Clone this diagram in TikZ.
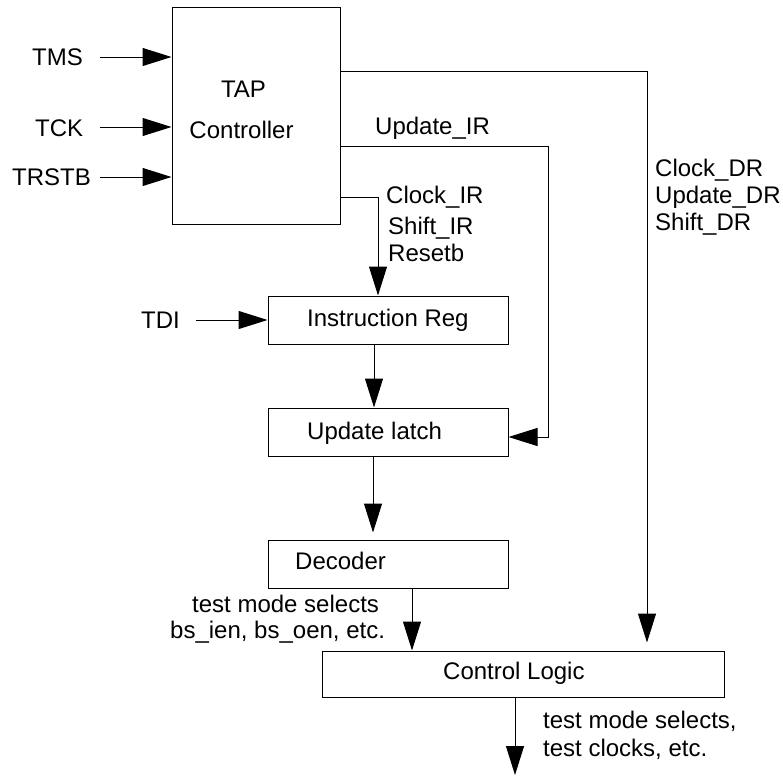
\documentclass[tikz,border=0pt]{standalone}
\usepackage{fontspec}
\setmainfont{Liberation Sans}
\usetikzlibrary{arrows.meta}
\begin{document}
\begin{tikzpicture}[x=1pt,y=-1pt,
  box/.style={draw, line width=1pt, inner sep=0pt},
  arr/.style={draw, line width=1pt, -{Triangle[length=29pt,width=18pt]}},
  lbl/.style={inner sep=0pt, anchor=base west, font=\fontsize{24}{28}\selectfont},
  clbl/.style={inner sep=0pt, anchor=base, font=\fontsize{24}{28}\selectfont}]
\useasboundingbox (0,0) rectangle (783,776);
% boxes
\node[box, minimum width=168pt, minimum height=216pt] (tap) at (256,116) {};
\node[box, minimum width=240pt, minimum height=48pt] (ir) at (388,320) {};
\node[box, minimum width=240pt, minimum height=48pt] (ul) at (388,432) {};
\node[box, minimum width=240pt, minimum height=48pt] (dec) at (388,564) {};
\node[box, minimum width=402pt, minimum height=46pt] (cl) at (523,674) {};
% box texts
\node[clbl] (taptxt) at (243.5,97) {TAP};
\node[clbl] (ctrltxt) at (241.5,138) {Controller};
\node[lbl] (irtxt) at (307,326) {Instruction Reg};
\node[lbl] (ultxt) at (307,439) {Update latch};
\node[lbl] (dectxt) at (295,569) {Decoder};
\node[lbl] (cltxt) at (443,679) {Control Logic};
% input labels
\node[lbl] (tms) at (32,66) {TMS};
\node[lbl] (tck) at (35,136) {TCK};
\node[lbl] (trstb) at (12,185) {TRSTB};
\node[lbl] (tdi) at (141,328) {TDI};
% signal labels
\node[lbl] (updir) at (375,134) {Update\_IR};
\node[lbl] (clkir) at (386,203) {Clock\_IR};
\node[lbl] (shir) at (388,234) {Shift\_IR};
\node[lbl] (rstb) at (388,261) {Resetb};
\node[lbl] (clkdr) at (655,176) {Clock\_DR};
\node[lbl] (upddr) at (655,203) {Update\_DR};
\node[lbl] (shdr) at (655,230) {Shift\_DR};
\node[lbl] (tms1) at (192,612) {test mode selects};
\node[lbl] (tms2) at (170,638) {bs\_ien, bs\_oen, etc.};
\node[lbl] (out1) at (543,728) {test mode selects,};
\node[lbl] (out2) at (543,756) {test clocks, etc.};
% coordinates
\coordinate (tmsS) at (100,57);
\coordinate (tckS) at (100,127);
\coordinate (trstbS) at (100,177);
\coordinate (tdiS) at (196,320);
\coordinate (dr) at (647,71);
\coordinate (ur) at (548,146);
\coordinate (urb) at (548,437);
\coordinate (ci) at (378,197);
\coordinate (x374) at (374,0);
\coordinate (x373) at (373,0);
\coordinate (x412) at (412,0);
\coordinate (outE) at (515,775);
% connectors
\draw[arr] (tmsS) -- (tmsS -| tap.west);
\draw[arr] (tckS) -- (tckS -| tap.west);
\draw[arr] (trstbS) -- (trstbS -| tap.west);
\draw[arr] (tdiS) -- (tdiS -| ir.west);
\draw[arr, shorten >=8pt] (tap.east |- dr) -- (dr) -- (dr |- cl.north);
\draw[arr] (tap.east |- ur) -- (ur) -- (urb) -- (urb -| ul.east);
\draw[arr] (tap.east |- ci) -- (ci) -- (ci |- ir.north);
\draw[arr] (x374 |- ir.south) -- (x374 |- ul.north);
\draw[arr, shorten >=7pt] (x373 |- ul.south) -- (x373 |- dec.north);
\draw[arr] (x412 |- dec.south) -- (x412 |- cl.north);
\draw[arr] (outE |- cl.south) -- (outE);
\end{tikzpicture}
\end{document}
